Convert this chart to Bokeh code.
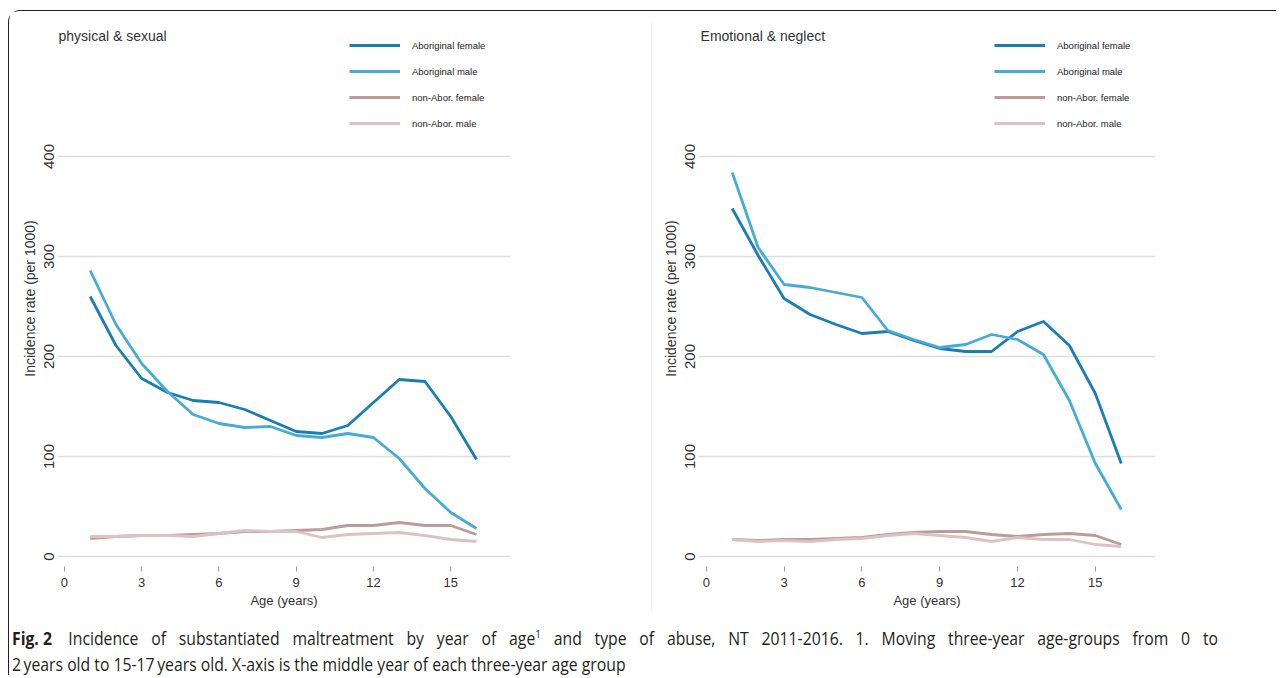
from bokeh.plotting import figure
from bokeh.models import Range1d, Label, Legend, LegendItem, Div, FixedTicker
from bokeh.layouts import row, column
from bokeh.embed import file_html
from bokeh.resources import INLINE

# ---- data ----
age = list(range(1, 17))
series_names = ["Aboriginal female", "Aboriginal male", "non-Abor. female", "non-Abor. male"]
series_colors = ["#1a7db4", "#46acd7", "#bb9c9a", "#dcc3c1"]

ps_abor_f = [260, 211, 178, 164, 156, 154, 147, 136, 125, 123, 131, 154, 177, 175, 140, 97]
ps_abor_m = [286, 232, 193, 165, 142, 133, 129, 130, 121, 119, 123, 119, 98, 68, 44, 28]
ps_non_f = [18, 20, 21, 21, 22, 23, 25, 25, 26, 27, 31, 31, 34, 31, 31, 22]
ps_non_m = [20, 20, 21, 21, 20, 23, 26, 25, 25, 19, 22, 23, 24, 21, 17, 15]

en_abor_f = [348, 301, 258, 242, 232, 223, 225, 216, 208, 205, 205, 225, 235, 211, 163, 93]
en_abor_m = [384, 309, 272, 269, 264, 259, 226, 217, 209, 212, 222, 217, 202, 156, 93, 47]
en_non_f = [17, 16, 17, 17, 18, 19, 22, 24, 25, 25, 22, 20, 22, 23, 21, 12]
en_non_m = [17, 15, 16, 15, 17, 18, 21, 23, 21, 19, 15, 19, 17, 17, 12, 10]

x_ticks = [0, 3, 6, 9, 12, 15]
y_ticks = [0, 100, 200, 300, 400]

FONT = "Liberation Sans"


def make_panel(title, data, width, mbl, mbr, xr, title_x, legend_x):
    p = figure(width=width, height=601, x_range=Range1d(*xr), y_range=Range1d(-10, 526),
               output_backend="svg", toolbar_location=None,
               min_border_left=mbl, min_border_right=mbr, min_border_top=19, min_border_bottom=46)
    p.outline_line_color = None
    p.background_fill_color = "white"
    p.border_fill_color = "white"

    p.xgrid.visible = False
    p.ygrid.ticker = FixedTicker(ticks=y_ticks)
    p.ygrid.grid_line_color = "#dedede"
    p.ygrid.grid_line_width = 1.6

    xa = p.xaxis[0]
    xa.ticker = FixedTicker(ticks=x_ticks)
    xa.axis_line_color = None
    xa.major_tick_in = 0
    xa.major_tick_out = 5
    xa.major_tick_line_color = "#999999"
    xa.minor_tick_line_color = None
    xa.major_label_standoff = 6
    xa.major_label_text_font = FONT
    xa.major_label_text_font_size = "13px"
    xa.major_label_text_color = "#333333"
    xa.axis_label = "Age (years)"
    xa.axis_label_text_font = FONT
    xa.axis_label_text_font_style = "normal"
    xa.axis_label_text_font_size = "13px"
    xa.axis_label_text_color = "#333333"
    xa.axis_label_standoff = 3

    ya = p.yaxis[0]
    ya.ticker = FixedTicker(ticks=y_ticks)
    ya.axis_line_color = None
    ya.major_tick_in = 0
    ya.major_tick_out = 0
    ya.minor_tick_line_color = None
    ya.major_tick_line_color = None
    ya.major_label_orientation = "vertical"
    ya.major_label_standoff = 4
    ya.major_label_text_font = FONT
    ya.major_label_text_font_size = "15px"
    ya.major_label_text_color = "#333333"
    ya.axis_label = "Incidence rate (per 1000)"
    ya.axis_label_text_font = FONT
    ya.axis_label_text_font_style = "normal"
    ya.axis_label_text_font_size = "14px"
    ya.axis_label_text_color = "#333333"
    ya.axis_label_standoff = 3

    items = []
    for name, color, vals in zip(series_names, series_colors, data):
        r = p.line(age, vals, line_color=color, line_width=2.8, line_join="round")
        items.append(LegendItem(label=name, renderers=[r]))

    leg = Legend(items=items, location=(legend_x, 433), glyph_width=51, glyph_height=20,
                 label_standoff=12, spacing=6, padding=0, margin=0,
                 border_line_color=None, background_fill_alpha=0,
                 label_text_font=FONT, label_text_font_size="9.5px", label_text_color="#222222")
    p.add_layout(leg, "center")

    p.add_layout(Label(x=title_x, y=521, text=title, text_baseline="middle",
                       text_font=FONT, text_font_size="14px", text_color="#333333"))
    return p


p1 = make_panel("physical & sexual", [ps_abor_f, ps_abor_m, ps_non_f, ps_non_m],
                642, 48, 141, (-0.27, 17.32), -0.23, 292)
p2 = make_panel("Emotional & neglect", [en_abor_f, en_abor_m, en_non_f, en_non_m],
                624, 46, 121, (-0.30, 17.32), -0.22, 296)

sep = Div(text="", width=1, height=590, margin=(11, 0, 0, 0),
          styles={"background-color": "#eef1f1"})

caption = Div(
    text=("<div style='transform:scaleX(0.9);transform-origin:0 0;width:1340px'>"
          "<div style='width:1340px;text-align:justify;text-align-last:justify;white-space:nowrap'>"
          "<b style='display:inline-block;margin-right:4px'>Fig. 2</b> Incidence of substantiated maltreatment by year of age"
          "<sup style='font-size:11px'>1</sup> and type of abuse, NT 2011-2016. 1. Moving three-year age-groups from 0 to</div>"
          "<div style='white-space:nowrap'>2&#8201;years old to 15-17&#8201;years old. X-axis is the middle year of each three-year age group</div>"
          "</div>"),
    width=1250, height=54, margin=(9, 0, 0, 3),
    styles={"font-family": "'Open Sans', sans-serif",
            "font-size": "17.5px", "line-height": "26px", "color": "#231f20"})

layout = column(row(p1, sep, p2), caption, margin=(10, 0, 0, 8),
                styles={"border-top": "1.5px solid #222", "border-left": "1.5px solid #222",
                        "border-top-left-radius": "12px"})

open("out.html", "w").write(file_html(layout, INLINE))
